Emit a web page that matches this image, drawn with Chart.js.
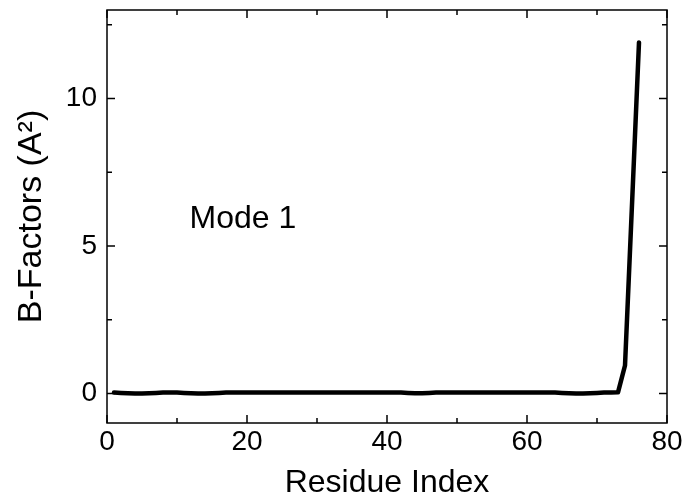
<!DOCTYPE html>
<html>
<head>
<meta charset="utf-8">
<script src="https://cdn.jsdelivr.net/npm/chart.js@4.4.1/dist/chart.umd.min.js"></script>
<style>
  html, body { margin: 0; padding: 0; background: #fff; }
  #wrap { width: 685px; height: 502px; }
</style>
</head>
<body>
<div id="wrap"><canvas id="bfactorChart" width="685" height="502"></canvas></div>
<script>
// Residue numbers and B-factors (mode 1)
const residues = [
  1, 2, 3, 4, 5, 6, 7, 8, 9, 10, 11, 12, 13, 14, 15, 16, 17, 18, 19, 20,
  21, 22, 23, 24, 25, 26, 27, 28, 29, 30, 31, 32, 33, 34, 35, 36, 37, 38, 39, 40,
  41, 42, 43, 44, 45, 46, 47, 48, 49, 50, 51, 52, 53, 54, 55, 56, 57, 58, 59, 60,
  61, 62, 63, 64, 65, 66, 67, 68, 69, 70, 71, 72, 73, 74, 75, 76
];
const bFactors = [
  0.03, 0.02, 0.01, 0.00, 0.00, 0.01, 0.02, 0.03, 0.03, 0.03, 0.02, 0.01, 0.00, 0.00, 0.01, 0.02, 0.03, 0.03, 0.03, 0.03,
  0.03, 0.03, 0.03, 0.03, 0.03, 0.03, 0.03, 0.03, 0.03, 0.03, 0.03, 0.03, 0.03, 0.03, 0.03, 0.03, 0.03, 0.03, 0.03, 0.03,
  0.03, 0.03, 0.02, 0.01, 0.01, 0.02, 0.03, 0.03, 0.03, 0.03, 0.03, 0.03, 0.03, 0.03, 0.03, 0.03, 0.03, 0.03, 0.03, 0.03,
  0.03, 0.03, 0.03, 0.03, 0.02, 0.01, 0.00, 0.00, 0.01, 0.02, 0.03, 0.03, 0.04, 0.95, 6.4, 11.9
];
const xTicks = [0, 20, 40, 60, 80];
const xMinorTicks = [10, 30, 50, 70];
const yTicks = [0, 5, 10];
const yMinorTicks = [2.5, 7.5, 12.5];

const FONT = "'Liberation Sans', Arial, sans-serif";

// frame, inward ticks on all four sides, and the "Mode 1" label
const framePlugin = {
  id: "frame",
  afterDraw(chart) {
    const { ctx, chartArea: a, scales: { x, y } } = chart;
    ctx.save();
    ctx.strokeStyle = "#000";
    ctx.lineWidth = 1.5;
    ctx.strokeRect(a.left, a.top, a.right - a.left, a.bottom - a.top);
    const tick = (x1, y1, x2, y2) => {
      ctx.beginPath();
      ctx.moveTo(x1, y1);
      ctx.lineTo(x2, y2);
      ctx.stroke();
    };
    const drawX = (vals, len) => vals.forEach(v => {
      const px = x.getPixelForValue(v);
      tick(px, a.bottom, px, a.bottom - len);
      tick(px, a.top, px, a.top + len);
    });
    const drawY = (vals, len) => vals.forEach(v => {
      const py = y.getPixelForValue(v);
      tick(a.left, py, a.left + len, py);
      tick(a.right, py, a.right - len, py);
    });
    drawX(xTicks, 8);
    drawX(xMinorTicks, 5);
    drawY(yTicks, 8);
    drawY(yMinorTicks, 5);

    ctx.fillStyle = "#000";
    ctx.font = "32px " + FONT;
    ctx.textAlign = "left";
    ctx.textBaseline = "middle";
    ctx.fillText("Mode 1", x.getPixelForValue(11.8), y.getPixelForValue(5.9));
    ctx.restore();
  }
};

const ctx = document.getElementById("bfactorChart").getContext("2d");
new Chart(ctx, {
  type: "line",
  data: {
    datasets: [{
      data: residues.map((r, i) => ({ x: r, y: bFactors[i] })),
      borderColor: "#000",
      borderWidth: 4.5,
      borderJoinStyle: "round",
      borderCapStyle: "round",
      pointRadius: 0,
      tension: 0,
      fill: false
    }]
  },
  plugins: [framePlugin],
  options: {
    responsive: false,
    animation: false,
    layout: { padding: { top: 10, right: 18, left: 0, bottom: 0 } },
    plugins: {
      legend: { display: false },
      tooltip: { enabled: false }
    },
    scales: {
      x: {
        type: "linear",
        min: 0,
        max: 80,
        afterBuildTicks: s => { s.ticks = xTicks.map(v => ({ value: v })); },
        afterFit: s => { s.height = 79; s.paddingLeft = 0; s.paddingRight = 0; },
        grid: { display: false, drawTicks: false },
        border: { display: false },
        ticks: { color: "#000", font: { family: FONT, size: 28 }, padding: 2, maxRotation: 0 },
        title: {
          display: true,
          text: "Residue Index",
          color: "#000",
          font: { family: FONT, size: 32 },
          padding: { top: 0, bottom: 0 }
        }
      },
      y: {
        type: "linear",
        min: -1,
        max: 13,
        afterBuildTicks: s => { s.ticks = yTicks.map(v => ({ value: v })); },
        afterFit: s => { s.width = 107; s.paddingTop = 0; s.paddingBottom = 0; },
        grid: { display: false, drawTicks: false },
        border: { display: false },
        ticks: { color: "#000", font: { family: FONT, size: 28 }, padding: 10 },
        title: {
          display: true,
          text: "B-Factors (A²)",
          color: "#000",
          font: { family: FONT, size: 34 },
          padding: { top: 11, bottom: 0 }
        }
      }
    }
  }
});
</script>
</body>
</html>
